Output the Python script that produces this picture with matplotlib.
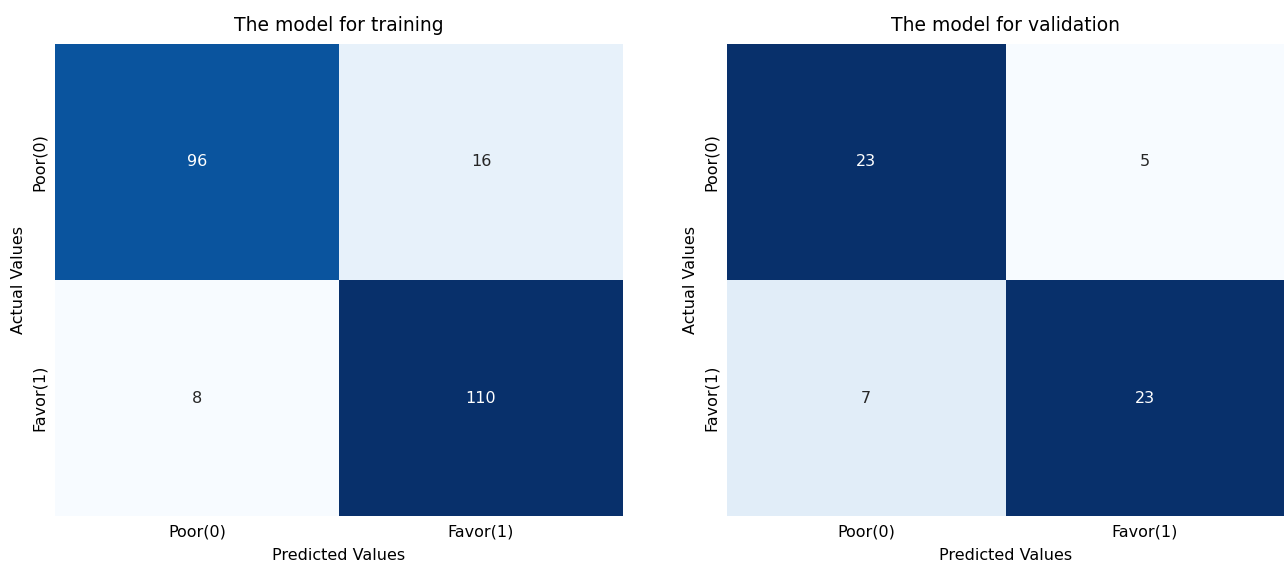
import matplotlib
matplotlib.use("Agg")
import matplotlib.pyplot as plt
import seaborn as sns
import numpy as np

labels = ["Poor(0)", "Favor(1)"]
train_cm = [[96, 16], [8, 110]]
valid_cm = [[23, 5], [7, 23]]
titles = ["The model for training", "The model for validation"]

fig = plt.figure(figsize=(12.84, 5.61), dpi=100)
ax1 = fig.add_axes([0.0428, 0.0802, 0.4424, 0.8414])
ax2 = fig.add_axes([0.5662, 0.0802, 0.4338, 0.8414])

for ax, cm, t in zip([ax1, ax2], [train_cm, valid_cm], titles):
    sns.heatmap(np.array(cm), annot=True, fmt="d", cmap="Blues", cbar=False,
                xticklabels=labels, yticklabels=labels, ax=ax,
                annot_kws={"fontsize": 11.5})
    ax.set_title(t, fontsize=13.5, pad=9)
    ax.set_xlabel("Predicted Values", fontsize=11.5, labelpad=6)
    ax.set_ylabel("Actual Values", fontsize=11.5, labelpad=4)
    ax.tick_params(axis="both", length=0, labelsize=11.5, pad=6)

fig.savefig("out.png", dpi=100)
